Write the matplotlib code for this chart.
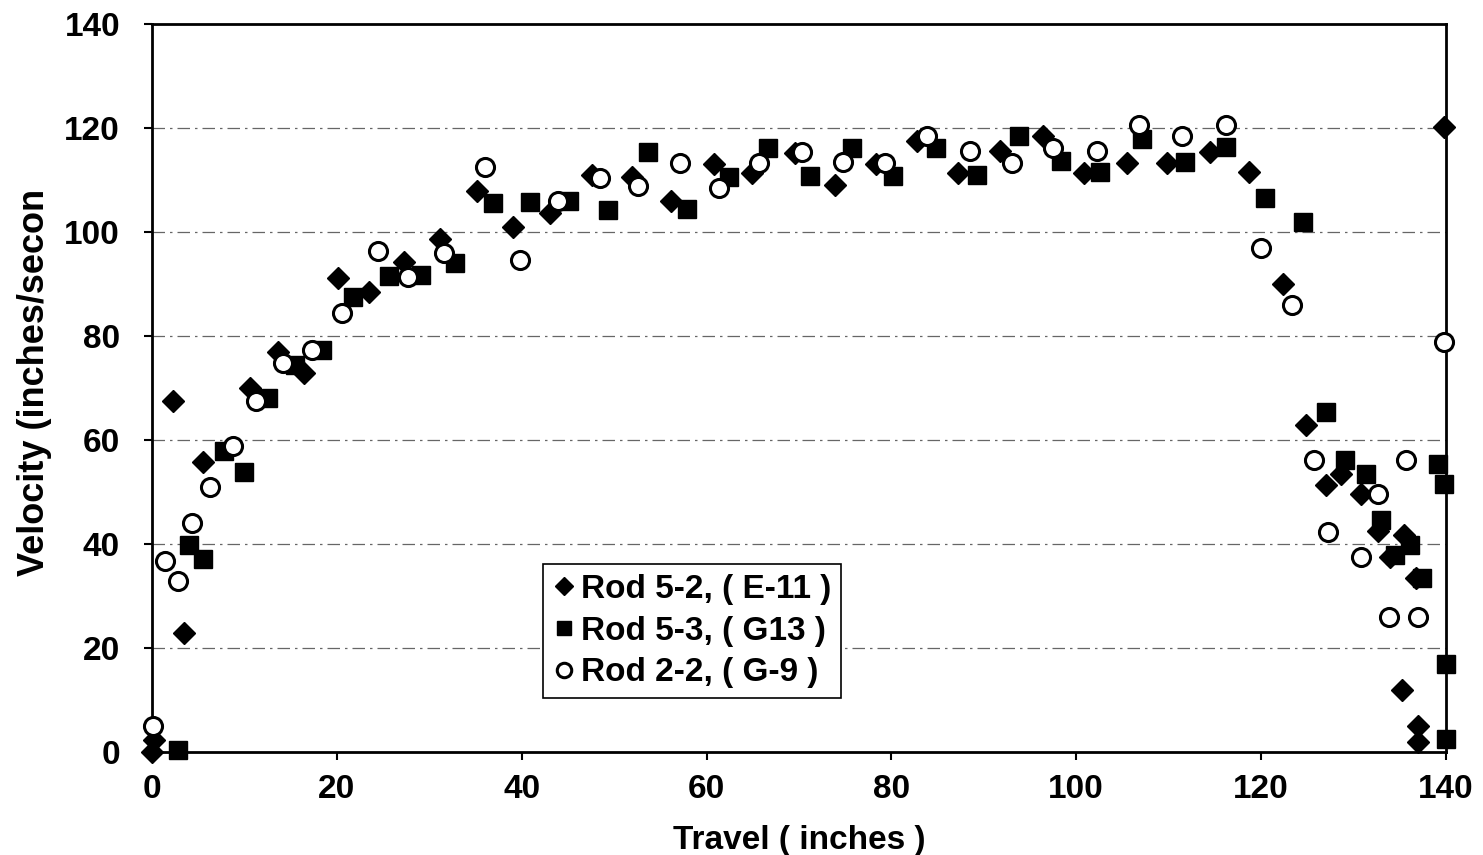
import matplotlib
matplotlib.use("Agg")
import matplotlib.pyplot as plt

plt.rcParams['font.family'] = ['Liberation Sans', 'DejaVu Sans']
plt.rcParams['font.weight'] = 'bold'

# Rod 5-2, ( E-11 )  -- diamonds
rod52_x = [0, 0.2, 2.3, 3.5, 5.5, 10.6, 13.6, 16.4, 20.1, 23.5, 27.3, 31.2, 35.2, 39.1,
           43.1, 47.6, 51.9, 56.2, 60.8, 64.9, 69.6, 73.9, 78.3, 82.8, 87.2, 91.7,
           96.4, 100.8, 105.5, 109.8, 114.5, 118.7, 122.4, 124.9, 127.0, 128.7, 130.8,
           132.7, 133.9, 135.5, 136.8, 135.3, 137.0, 137.0, 139.8]
rod52_y = [0, 2.3, 67.4, 22.9, 55.8, 69.9, 77.0, 72.8, 91.1, 88.5, 94.3, 98.6, 107.8, 101.0,
           103.7, 111.0, 110.5, 106.0, 113.0, 111.3, 115.2, 109.0, 113.1, 117.5, 111.3, 115.6,
           118.5, 111.3, 113.3, 113.3, 115.4, 111.5, 90.0, 62.9, 51.3, 53.5, 49.6,
           42.5, 37.5, 41.7, 33.5, 11.9, 5.0, 2.0, 120.2]

# Rod 5-3, ( G13 )  -- squares
rod53_x = [2.8, 4.0, 5.5, 7.8, 9.9, 12.5, 15.5, 18.4, 21.8, 25.6, 29.1, 32.8, 36.9, 40.9,
           45.1, 49.3, 53.7, 57.9, 62.4, 66.7, 71.2, 75.7, 80.2, 84.8, 89.3, 93.8,
           98.3, 102.6, 107.1, 111.8, 116.2, 120.4, 124.5, 127.0, 129.1, 131.3, 133.0,
           134.5, 136.1, 137.4, 139.1, 139.8, 140.0, 140.0]
rod53_y = [0.3, 39.8, 37.1, 57.9, 53.9, 68.0, 74.4, 77.3, 87.4, 91.5, 91.7, 94.0, 105.6, 105.8,
           106.0, 104.2, 115.3, 104.4, 110.6, 116.2, 110.8, 116.2, 110.8, 116.2, 111.0, 118.5,
           113.7, 111.5, 117.9, 113.5, 116.3, 106.5, 101.9, 65.4, 56.2, 53.5, 44.6,
           37.9, 39.8, 33.5, 55.4, 51.5, 16.9, 2.5]

# Rod 2-2, ( G-9 )  -- open circles
rod22_x = [0.1, 1.4, 2.8, 4.3, 6.3, 8.8, 11.2, 14.2, 17.3, 20.6, 24.4, 27.7, 31.6, 36.0,
           39.8, 43.9, 48.5, 52.6, 57.1, 61.3, 65.7, 70.3, 74.8, 79.3, 83.8, 88.5,
           93.0, 97.5, 102.2, 106.8, 111.4, 116.2, 120.0, 123.3, 125.7, 127.2, 130.8,
           132.7, 133.8, 135.7, 137.0, 139.8]
rod22_y = [4.9, 36.8, 32.9, 44.0, 50.9, 58.8, 67.4, 74.8, 77.3, 84.4, 96.3, 91.4, 95.9, 112.4,
           94.7, 106.0, 110.3, 108.8, 113.2, 108.5, 113.3, 115.4, 113.5, 113.3, 118.5, 115.6,
           113.3, 116.2, 115.6, 120.6, 118.5, 120.6, 96.9, 86.0, 56.2, 42.3, 37.5,
           49.6, 26.0, 56.2, 26.0, 78.8]

x_ticks = [0, 20, 40, 60, 80, 100, 120, 140]
y_ticks = [0, 20, 40, 60, 80, 100, 120, 140]

fig = plt.figure(figsize=(14.83, 8.55), dpi=100)
ax = fig.add_axes([0.1025, 0.1205, 0.8725, 0.8515])

for yv in y_ticks[1:-1]:
    ax.axhline(yv, color='#666666', lw=0.9, ls=(0, (10, 4, 2, 4)), zorder=0)

ax.plot(rod52_x, rod52_y, ls='none', marker='D', ms=11, color='black',
        label='Rod 5-2, ( E-11 )', clip_on=False, zorder=3)
ax.plot(rod53_x, rod53_y, ls='none', marker='s', ms=13, color='black',
        label='Rod 5-3, ( G13 )', clip_on=False, zorder=3)
ax.plot(rod22_x, rod22_y, ls='none', marker='o', ms=13, mfc='white', mec='black', mew=2.2,
        label='Rod 2-2, ( G-9 )', clip_on=False, zorder=4)

ax.set_xlim(0, 140)
ax.set_ylim(0, 140)
ax.set_xticks(x_ticks)
ax.set_yticks(y_ticks)
ax.tick_params(labelsize=24, length=6, width=1.5)
ax.tick_params(axis='y', pad=17)
ax.tick_params(axis='x', pad=10)
for lab in ax.get_xticklabels() + ax.get_yticklabels():
    lab.set_fontweight('bold')
for s in ax.spines.values():
    s.set_linewidth(2)

ax.set_xlabel('Travel ( inches )', fontsize=24, fontweight='bold', labelpad=14)
ax.set_ylabel('Velocity (inches/secon', fontsize=26, fontweight='bold')
ax.yaxis.set_label_coords(-0.0776, 0.508)

leg = ax.legend(loc='upper left', bbox_to_anchor=(0.302, 0.258), fontsize=24,
                frameon=True, fancybox=False, framealpha=1, edgecolor='black',
                handletextpad=0.15, handlelength=0.7, borderpad=0.3, labelspacing=0.32,
                borderaxespad=0, markerscale=0.8)
leg.get_frame().set_linewidth(1.2)
for t in leg.get_texts():
    t.set_fontweight('bold')

fig.savefig('out.png', dpi=100)
